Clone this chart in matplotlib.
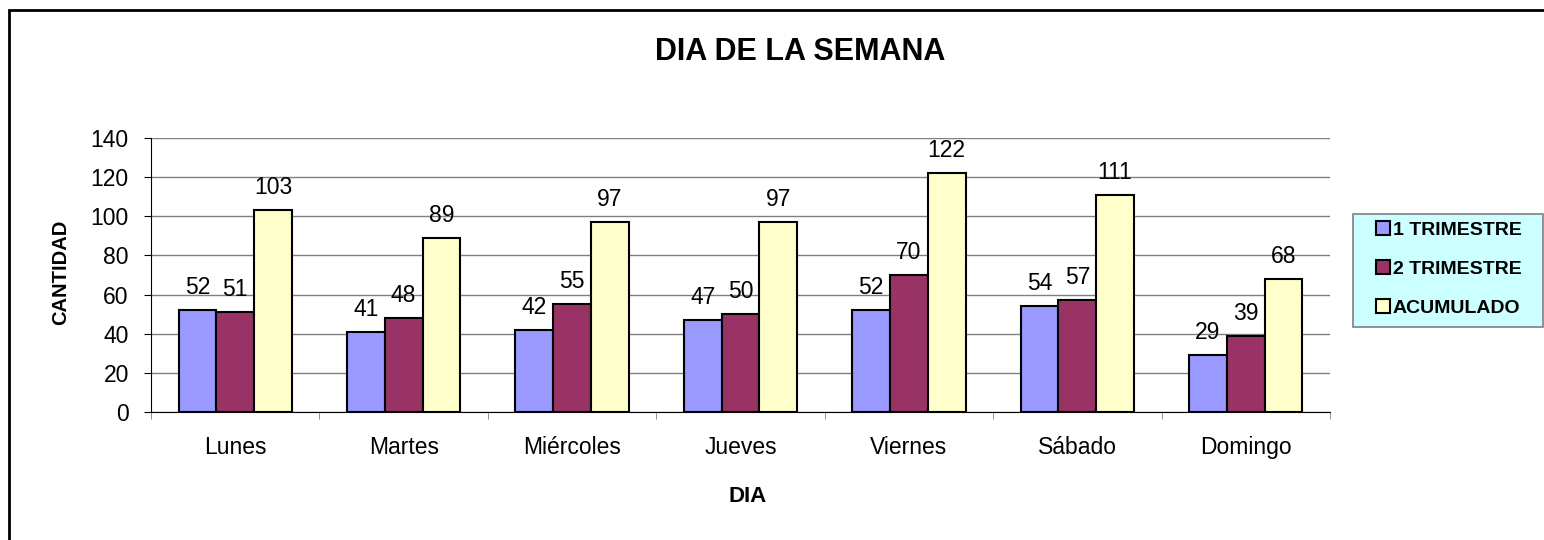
import numpy as np
import matplotlib.pyplot as plt
from matplotlib.patches import Rectangle

plt.rcParams['font.family'] = ['Liberation Sans', 'DejaVu Sans']

dias = ["Lunes", "Martes", "Miércoles", "Jueves", "Viernes", "Sábado", "Domingo"]
trim1 = [52, 41, 42, 47, 52, 54, 29]
trim2 = [51, 48, 55, 50, 70, 57, 39]
acumulado = [103, 89, 97, 97, 122, 111, 68]
series = ["1 TRIMESTRE", "2 TRIMESTRE", "ACUMULADO"]
colores = ["#9999FF", "#993366", "#FFFFCC"]

W, H = 1544, 540
fig = plt.figure(figsize=(W / 100, H / 100), dpi=100)
ax = fig.add_axes([151 / W, 1 - 412 / H, 1179 / W, 274 / H])

# marco exterior del grafico
fig.patches.append(Rectangle((9 / W, -0.05), 1.1, 1 - 10 / H + 0.05,
                             transform=fig.transFigure, fill=False,
                             edgecolor="black", linewidth=2))

x = np.arange(len(dias))
w = 0.224
for i, (vals, nombre, col) in enumerate(zip([trim1, trim2, acumulado], series, colores)):
    barras = ax.bar(x + (i - 1) * w, vals, w, color=col, edgecolor="black",
                    linewidth=1.5, label=nombre, zorder=3)
    ax.bar_label(barras, padding=8, fontsize=16.5)

ax.set_xlim(-0.5, len(dias) - 0.5)
ax.set_ylim(0, 140)
ax.set_yticks(range(0, 141, 20))
ax.yaxis.grid(True, color="#808080", linewidth=1, zorder=0)
ax.set_xticks(x)
ax.set_xticklabels(dias, fontsize=16.5)
ax.set_xticks(np.arange(-0.5, len(dias), 1), minor=True)
ax.tick_params(axis="x", which="major", length=0, pad=17)
ax.tick_params(axis="x", which="minor", length=5, direction="out", color="#808080")
ax.tick_params(axis="y", labelsize=16.5, length=5, direction="out", pad=11)
for lado in ["top", "right"]:
    ax.spines[lado].set_visible(False)

fig.text(61 / W, 1 - 272 / H, "CANTIDAD", rotation=90, ha="center", va="center",
         fontsize=14.5, fontweight="bold")
fig.text(748 / W, 1 - 497 / H, "DIA", ha="center", va="center",
         fontsize=16, fontweight="bold")
fig.text(800 / W, 1 - 52 / H, "DIA DE LA SEMANA", ha="center", va="center",
         fontsize=22, fontweight="bold")

# caja de la leyenda
fig.patches.append(Rectangle((1353 / W, 1 - 327 / H), 190 / W, 113 / H,
                             transform=fig.transFigure, facecolor="#CCFFFF",
                             edgecolor="#808080", linewidth=1.2))
fig.legend(loc="upper left", bbox_to_anchor=(1376 / W, 1 - 221 / H),
           prop={"size": 14, "weight": "bold"}, frameon=False,
           handlelength=0.7, handleheight=0.7, handletextpad=0.15,
           labelspacing=1.1, borderpad=0, borderaxespad=0)

fig.savefig("out.png", dpi=100)
